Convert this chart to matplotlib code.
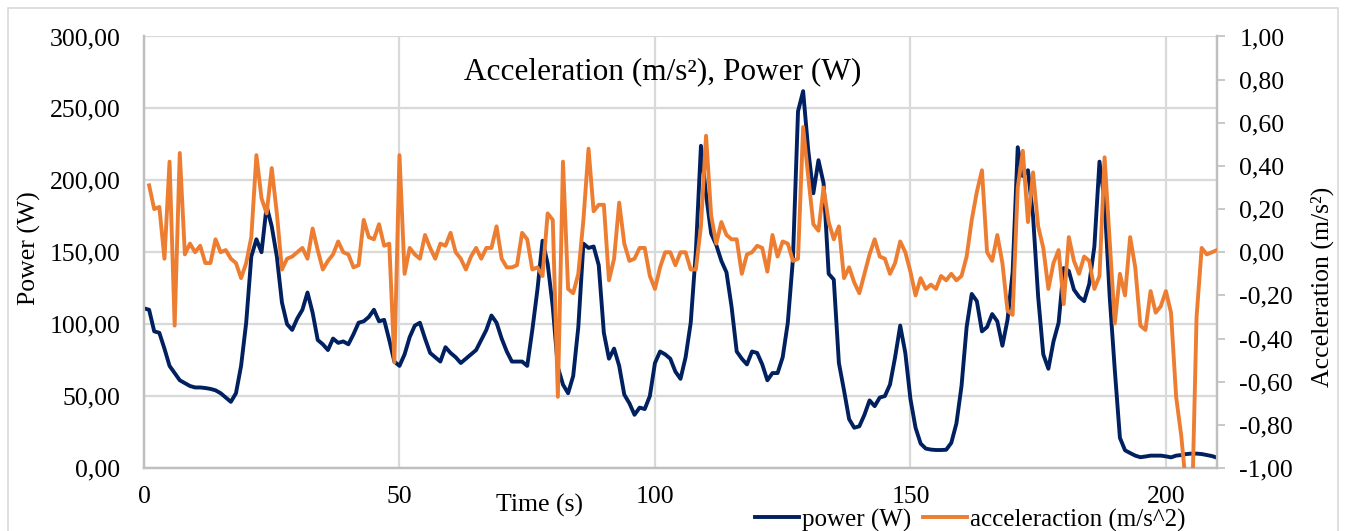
import numpy as np
import matplotlib
matplotlib.use('Agg')
import matplotlib.pyplot as plt
from matplotlib.patches import Rectangle
from matplotlib.ticker import FuncFormatter, MultipleLocator

plt.rcParams['font.family'] = ['Liberation Serif', 'DejaVu Serif']

# power (W), one sample per second from t=0
power = [111, 110, 95, 94, 83, 71, 66, 61, 59, 57,
         56, 56, 55.6, 55, 54, 52, 49, 46, 52, 71,
         101, 147, 159, 150, 182, 168, 147, 115, 100, 96,
         104, 110, 122, 108, 89, 86, 82, 90, 87, 88,
         86, 93, 101, 102, 105, 110, 102, 103, 89, 74,
         71, 79, 91, 99, 101, 90, 80, 77, 74, 84,
         80, 77, 73, 76, 79, 82, 89, 96, 106, 101,
         90, 81, 74, 74, 74, 71, 96, 124, 158, 142,
         112, 70, 58, 52, 64, 98, 156, 153, 154, 141,
         94, 76, 83, 71, 51, 45, 37, 42, 41, 50,
         73, 81, 79, 76, 67, 62, 77, 101, 150, 224,
         190, 163, 155, 144, 136, 112, 81, 76, 72, 81,
         80, 72, 61, 66, 66, 77, 101, 145, 248, 262,
         221, 191, 214, 198, 135, 131, 73, 54, 34, 28,
         29, 37, 47, 43, 49, 50, 58, 77, 99, 80,
         48, 28, 17, 13.5, 12.8, 12.5, 12.5, 12.7, 17.5, 31,
         57, 98, 121, 116, 95, 98, 107, 102, 85, 103,
         136, 223, 203, 207, 175, 119, 79, 69, 88, 101,
         139, 137, 124, 119, 116, 128, 154, 213, 185, 119,
         68, 21, 12.3, 10.4, 8.6, 7.5, 8, 8.6, 8.6, 8.6,
         8.1, 7.4, 8.6, 9, 9.7, 10, 10, 9.7, 9, 8.3,
         7.2]

# acceleration (m/s^2), one sample per second from t=1
accel = [0.31, 0.20, 0.21, -0.03, 0.42, -0.34, 0.46, -0.01, 0.04, 0.00,
         0.03, -0.05, -0.05, 0.06, 0.00, 0.01, -0.03, -0.05, -0.12, -0.05,
         0.07, 0.45, 0.25, 0.18, 0.39, 0.18, -0.08, -0.03, -0.02, 0.00,
         0.02, -0.03, 0.11, 0.01, -0.08, -0.04, -0.01, 0.05, 0.00, -0.01,
         -0.07, -0.06, 0.15, 0.07, 0.06, 0.13, 0.03, 0.04, -0.51, 0.45,
         -0.10, 0.02, -0.01, -0.03, 0.08, 0.02, -0.03, 0.04, 0.03, 0.09,
         0.00, -0.03, -0.08, -0.02, 0.02, -0.03, 0.02, 0.02, 0.12, -0.03,
         -0.07, -0.07, -0.06, 0.09, 0.06, -0.08, -0.07, -0.11, 0.18, 0.15,
         -0.67, 0.42, -0.17, -0.19, -0.10, 0.15, 0.48, 0.19, 0.22, 0.22,
         -0.13, -0.03, 0.23, 0.04, -0.04, -0.03, 0.02, 0.02, -0.11, -0.17,
         -0.07, 0.00, 0.00, -0.06, 0.00, 0.00, -0.08, -0.08, 0.12, 0.54,
         0.17, 0.04, 0.14, 0.08, 0.06, 0.06, -0.10, -0.01, 0.00, 0.03,
         0.02, -0.09, 0.08, -0.02, 0.05, 0.04, -0.04, -0.03, 0.58, 0.35,
         0.13, 0.10, 0.30, 0.14, 0.06, 0.12, -0.12, -0.07, -0.14, -0.19,
         -0.10, -0.01, 0.06, -0.02, -0.03, -0.10, -0.05, 0.05, 0.00, -0.09,
         -0.20, -0.12, -0.17, -0.15, -0.17, -0.11, -0.13, -0.10, -0.13, -0.11,
         -0.02, 0.15, 0.28, 0.38, 0.00, -0.04, 0.08, -0.05, -0.27, -0.29,
         0.30, 0.47, 0.14, 0.37, 0.12, 0.02, -0.17, -0.05, 0.01, -0.24,
         0.07, -0.04, -0.10, -0.02, -0.04, -0.17, -0.11, 0.44, 0.05, -0.33,
         -0.10, -0.20, 0.07, -0.07, -0.34, -0.36, -0.18, -0.28, -0.25, -0.18,
         -0.28, -0.67, -0.85, -1.10, -1.30, -0.30, 0.02, -0.01, 0.00, 0.01]

t_power = np.arange(len(power))
t_accel = np.arange(1, len(accel) + 1)

x_ticks = [0, 50, 100, 150, 200]

navy = '#002060'
orange = '#ED7D31'
grid = '#d9d9d9'
spine = '#bfbfbf'
fs = 18.5


def comma2(v, pos):
    return ('%.2f' % v).replace('.', ',')


fig = plt.figure(figsize=(13.46, 5.31), dpi=100)
ax = fig.add_axes([144 / 1346, 1 - 468 / 531, (1217 - 144) / 1346, (468 - 36.5) / 531])
ax2 = ax.twinx()

ax.plot(t_power, power, color=navy, linewidth=2.8, solid_joinstyle='round', label='power (W)', zorder=3)
ax2.plot(t_accel, accel, color=orange, linewidth=2.8, solid_joinstyle='round', label='acceleraction (m/s^2)', zorder=3)

ax.set_xlim(0, 210)
ax.set_ylim(0, 300)
ax2.set_ylim(-1, 1)
ax.set_xticks(x_ticks)
ax.yaxis.set_major_locator(MultipleLocator(50))
ax2.yaxis.set_major_locator(MultipleLocator(0.2))
ax.yaxis.set_major_formatter(FuncFormatter(comma2))
ax2.yaxis.set_major_formatter(FuncFormatter(comma2))

ax.grid(True, color=grid, linewidth=1.6, zorder=0)
ax.set_axisbelow(True)

for a in (ax, ax2):
    a.spines['top'].set_visible(False)
    for s in ('left', 'right', 'bottom'):
        a.spines[s].set_color(spine)
        a.spines[s].set_linewidth(1.6)

ax.tick_params(axis='y', length=0, pad=17, labelsize=fs)
ax.tick_params(axis='x', length=0, pad=13, labelsize=fs)
ax2.tick_params(axis='y', length=6, width=1.2, color=spine, pad=10, labelsize=fs, direction='out')

fig.text(29 / 1346, 1 - 248 / 531, 'Power (W)', rotation=90, fontsize=fs, ha='center', va='center')
fig.text(1322 / 1346, 1 - 287 / 531, 'Acceleration (m/s²)', rotation=90, fontsize=fs, ha='center', va='center')
fig.text(663 / 1346, 1 - 72 / 531, 'Acceleration (m/s²), Power (W)', fontsize=22.5, ha='center', va='center')
fig.text(540 / 1346, 1 - 505 / 531, 'Time (s)', fontsize=fs, ha='center', va='center')

h1, l1 = ax.get_legend_handles_labels()
h2, l2 = ax2.get_legend_handles_labels()
fig.legend(h1 + h2, l1 + l2, loc='center left', bbox_to_anchor=(755 / 1346, 1 - 520 / 531),
           ncol=2, frameon=False, fontsize=18, handlelength=1.75, handletextpad=0.15,
           columnspacing=0.45, borderpad=0, borderaxespad=0)

fig.patches.append(Rectangle((8 / 1346, -0.1), (1338 - 8) / 1346, 1.1 - 8 / 531,
                             transform=fig.transFigure, fill=False, edgecolor=grid, linewidth=1.2))

fig.savefig('out.png', dpi=100)
